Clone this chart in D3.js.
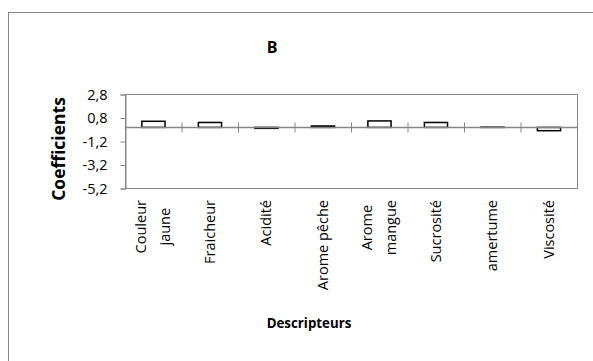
<!DOCTYPE html>
<html><head><meta charset="utf-8">
<script src="https://cdn.jsdelivr.net/npm/d3@7"></script>
<style>body{margin:0;background:#fff}svg{display:block;font-family:"Open Sans",sans-serif}</style>
</head><body>
<script>
const categories = [["Couleur","jaune"],["Fraicheur"],["Acidité"],["Arome pêche"],["Arome","mangue"],["Sucrosité"],["amertume"],["Viscosité"]];
const values = [0.52, 0.42, -0.08, 0.12, 0.55, 0.42, 0.02, -0.28];
const yTicks = [2.8, 0.8, -1.2, -3.2, -5.2];
const title = "B", xTitle = "Descripteurs", yTitle = "Coefficients";

const W = 593, H = 361;
const svg = d3.select("body").append("svg").attr("width", W).attr("height", H);
svg.append("rect").attr("x", 8.5).attr("y", 12.5).attr("width", 620).attr("height", 400)
  .attr("fill", "#fff").attr("stroke", "#868686").attr("stroke-width", 1);

const m = {l:125, r:577, t:94, b:188};
const x = d3.scaleBand().domain(categories.map((d,i)=>i)).range([m.l, m.r]);
const y = d3.scaleLinear().domain([-5.2, 2.8]).range([m.b, m.t]);
const grey = "#868686";

svg.append("rect").attr("x", m.l+0.5).attr("y", m.t+0.5).attr("width", m.r-m.l).attr("height", m.b-m.t)
  .attr("fill","none").attr("stroke", grey);

// y axis
const ya = svg.append("g").attr("transform", `translate(${m.l+0.5},0.5)`)
  .call(d3.axisLeft(y).tickValues(yTicks).tickSize(5).tickPadding(13).tickFormat(d=>d3.format(".1f")(d).replace(".", ",").replace("−","-")));
ya.select(".domain").attr("stroke", grey);
ya.selectAll(".tick line").attr("stroke", grey);
ya.selectAll(".tick text").attr("font-size", 14.5).attr("fill", "#000").attr("font-family","Open Sans");

// bars
svg.append("g").selectAll("rect").data(values).join("rect")
  .attr("x", (d,i)=>x(i)+x.bandwidth()*0.29+0.5)
  .attr("width", x.bandwidth()*0.41)
  .attr("y", d=>Math.min(y(d), y(0))+0.5)
  .attr("height", d=>Math.abs(y(d)-y(0)))
  .attr("fill", "#fff").attr("stroke", "#000").attr("stroke-width", 1.5);

// x axis at zero
const xa = svg.append("g").attr("transform", `translate(0.5,${Math.round(y(0))+0.5})`);
xa.append("line").attr("x1", m.l).attr("x2", m.r).attr("stroke", grey).attr("stroke-width", 1.5);
xa.selectAll("line.tk").data(d3.range(1, categories.length)).join("line").attr("class","tk")
  .attr("x1", i=>x(i)).attr("x2", i=>x(i)).attr("y1", -5).attr("y2", 5).attr("stroke", grey);

// category labels
const lineGap = 24, fs = 14.5, topY = 200;
categories.forEach((lines, i) => {
  const cx = x(i) + x.bandwidth()/2;
  const n = lines.length;
  const texts = lines.map((s, j) => {
    const off = (j - (n-1)/2) * lineGap;
    return svg.append("text")
      .attr("transform", `translate(${cx + off + fs*0.36},${topY}) rotate(-90)`)
      .attr("text-anchor", "middle")
      .attr("font-size", fs).text(s);
  });
  const L = Math.max(...texts.map(t => t.node().getComputedTextLength()));
  texts.forEach(t => t.attr("dx", -L/2));
});

svg.append("text").attr("x", 272).attr("y", 53).attr("text-anchor","middle").attr("font-weight","bold").attr("font-size", 16).text(title);
svg.append("text").attr("x", 309).attr("y", 328).attr("text-anchor","middle").attr("font-weight","bold").attr("font-size", 13.3).text(xTitle);
svg.append("text").attr("transform", "translate(65,149) rotate(-90)").attr("text-anchor","middle").attr("font-weight","bold").attr("font-size", 17.5).text(yTitle);
</script>
</body></html>
